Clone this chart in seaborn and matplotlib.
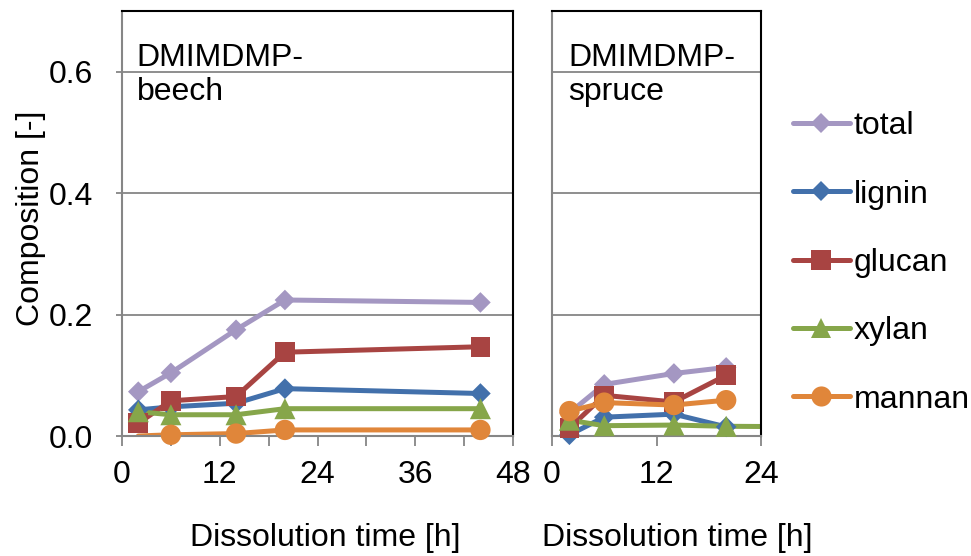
import pandas as pd
import seaborn as sns
import matplotlib.pyplot as plt
from matplotlib.ticker import MultipleLocator, FixedLocator
from matplotlib.lines import Line2D

# -----------------------------
# Data
# -----------------------------
components = ["total", "lignin", "glucan", "xylan", "mannan"]

beech_time = [2, 6, 14, 20, 44]
beech_total = [0.073, 0.104, 0.175, 0.224, 0.220]
beech_lignin = [0.043, 0.048, 0.054, 0.078, 0.070]
beech_glucan = [0.021, 0.058, 0.065, 0.138, 0.147]
beech_xylan = [0.040, 0.035, 0.035, 0.045, 0.045]
beech_mannan = [0.0, 0.002, 0.004, 0.010, 0.010]

spruce_time = [2, 6, 14, 20]
spruce_total = [0.038, 0.085, 0.103, 0.113]
spruce_lignin = [0.002, 0.031, 0.036, 0.015]
spruce_glucan = [0.013, 0.067, 0.056, 0.100]
spruce_mannan = [0.041, 0.055, 0.051, 0.059]
spruce_xylan_time = [2, 6, 14, 20, 44]
spruce_xylan = [0.026, 0.017, 0.018, 0.016, 0.014]

colors = {
    "total": "#A497C2",
    "lignin": "#4270AB",
    "glucan": "#A84442",
    "xylan": "#86A64A",
    "mannan": "#E0863A",
}
markers = {"total": "D", "lignin": "D", "glucan": "s", "xylan": "^", "mannan": "o"}
sizes = {"total": 110, "lignin": 110, "glucan": 200, "xylan": 230, "mannan": 215}
msize = {"total": 10.5, "lignin": 10.5, "glucan": 14, "xylan": 15, "mannan": 14.5}


def long_form(series):
    frames = []
    for name, (tt, vals) in series.items():
        frames.append(pd.DataFrame({"time": tt, "value": vals, "component": name}))
    return pd.concat(frames, ignore_index=True)


beech = long_form({
    "total": (beech_time, beech_total),
    "lignin": (beech_time, beech_lignin),
    "glucan": (beech_time, beech_glucan),
    "xylan": (beech_time, beech_xylan),
    "mannan": (beech_time, beech_mannan),
})
spruce = long_form({
    "total": (spruce_time, spruce_total),
    "lignin": (spruce_time, spruce_lignin),
    "glucan": (spruce_time, spruce_glucan),
    "xylan": (spruce_xylan_time, spruce_xylan),
    "mannan": (spruce_time, spruce_mannan),
})

# -----------------------------
# Style
# -----------------------------
sns.set_style("white")
plt.rcParams["font.family"] = ["Liberation Sans", "DejaVu Sans"]
plt.rcParams["text.color"] = "black"
plt.rcParams["xtick.labelcolor"] = "black"
plt.rcParams["ytick.labelcolor"] = "black"
FS = 23
GRAY = "#868686"

fig = plt.figure(figsize=(9.71, 5.56), dpi=100)
ax1 = fig.add_axes([122 / 971, 120 / 556, 391 / 971, 425 / 556])
ax2 = fig.add_axes([552 / 971, 120 / 556, 209 / 971, 425 / 556])


def draw(ax, df, xmax):
    sns.lineplot(
        data=df, x="time", y="value", hue="component", hue_order=components,
        palette=colors, linewidth=3.6, errorbar=None, legend=False, ax=ax,
    )
    # markers: only those inside the plot range, zero values hidden
    pts = df[(df["time"] <= xmax) & (df["value"] > 0)]
    sns.scatterplot(
        data=pts, x="time", y="value", hue="component", style="component",
        size="component", hue_order=components, style_order=components,
        size_order=components, palette=colors, markers=markers, sizes=sizes,
        linewidth=0, legend=False, clip_on=False, zorder=3, ax=ax,
    )
    ax.set_xlim(0, xmax)
    ax.set_ylim(0, 0.7)
    ax.set_xlabel("")
    ax.set_ylabel("")
    ax.yaxis.set_major_locator(FixedLocator([0.0, 0.2, 0.4, 0.6]))
    ax.grid(axis="y", color=GRAY, linewidth=1.3)
    ax.grid(axis="x", visible=False)
    ax.set_axisbelow(True)
    for side in ["left", "bottom"]:
        ax.spines[side].set_color(GRAY)
        ax.spines[side].set_linewidth(1.5)
    for side in ["top", "right"]:
        ax.spines[side].set_color("black")
        ax.spines[side].set_linewidth(1.5)
    ax.tick_params(axis="x", which="both", direction="out", length=7,
                   width=1.3, color=GRAY, labelsize=FS, pad=10, bottom=True)


draw(ax1, beech, 48)
draw(ax2, spruce, 24)

ax1.xaxis.set_major_locator(MultipleLocator(12))
ax1.xaxis.set_minor_locator(MultipleLocator(6))
ax1.yaxis.set_major_formatter(plt.FormatStrFormatter("%.1f"))
ax1.tick_params(axis="y", direction="out", length=4, width=1.3, color=GRAY,
                labelsize=FS, pad=17, left=True)

ax2.xaxis.set_major_locator(MultipleLocator(12))
ax2.tick_params(axis="y", length=0, labelleft=False)

ax1.text(0.038, 0.925, "DMIMDMP-\nbeech", transform=ax1.transAxes,
         fontsize=FS, va="top", ha="left", linespacing=1.18)
ax2.text(0.077, 0.925, "DMIMDMP-\nspruce", transform=ax2.transAxes,
         fontsize=FS, va="top", ha="left", linespacing=1.18)

fig.text(31 / 971, 1 - 218 / 556, "Composition [-]", rotation=90,
         fontsize=FS, ha="center", va="center")
fig.text(325 / 971, 1 - 538 / 556, "Dissolution time [h]",
         fontsize=FS, ha="center", va="center")
fig.text(677 / 971, 1 - 538 / 556, "Dissolution time [h]",
         fontsize=FS, ha="center", va="center")

handles = [
    Line2D([], [], color=colors[c], linewidth=3.6, marker=markers[c],
           markersize=msize[c], markeredgewidth=0)
    for c in components
]
fig.legend(handles, components, loc="center left",
           bbox_to_anchor=(793 / 971, 1 - 263 / 556), frameon=False,
           fontsize=FS, handlelength=1.78, handletextpad=0.12,
           labelspacing=1.2, borderpad=0, borderaxespad=0)

fig.savefig("out.png", dpi=100)
